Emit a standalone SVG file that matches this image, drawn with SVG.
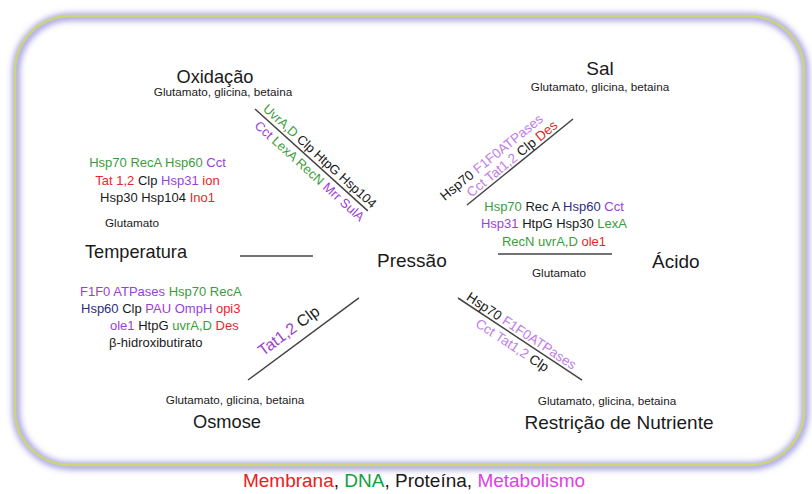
<svg xmlns="http://www.w3.org/2000/svg" width="812" height="494" viewBox="0 0 812 494">
<defs>
<style>
text{font-family:"Liberation Sans",Arial,sans-serif;fill:#1a1a1a}
.big{font-size:19px}
.sm{font-size:11.7px}
.gn{font-size:13px}
.dg{font-size:13.5px}
.g{fill:#3c9c3c}
.p{fill:#9b3fd3}
.lp{fill:#c07de6}
.r{fill:#e8262b}
.b{fill:#2e2e80}
.k{fill:#1a1a1a}
.edge{stroke:#444;stroke-width:1.5;fill:none}
.mid{text-anchor:middle}
</style>
<filter id="glow" x="-5%" y="-5%" width="110%" height="110%">
<feGaussianBlur stdDeviation="3"/>
</filter>
</defs>
<rect width="812" height="494" fill="#fff"/>
<g id="frame">
<rect x="16" y="17" width="789" height="449" rx="55" ry="55" fill="none" stroke="#9e98e0" stroke-width="7" filter="url(#glow)"/>
<rect x="15" y="16" width="789" height="449" rx="55" ry="55" fill="none" stroke="#cdd47a" stroke-width="2.5"/>
</g>

<g id="connectors">
<line class="edge" x1="240" y1="256" x2="313" y2="256"/>
<line class="edge" x1="498" y1="254" x2="612" y2="254"/>
<g transform="translate(255,109) rotate(42.07)">
<line class="edge" x1="0" y1="0" x2="152" y2="0"/>
<text class="gn" x="6" y="-4"><tspan class="g">UvrA,D</tspan> <tspan class="k">Clp HtpG Hsp104</tspan></text>
<text class="gn" x="11" y="14"><tspan class="p">Cct</tspan> <tspan class="g">LexA RecN</tspan> <tspan class="p">Mrr SulA</tspan></text>
</g>
<g transform="translate(248,380) rotate(-36.5)">
<line class="edge" x1="0" y1="0" x2="138" y2="0"/>
<text x="26" y="-10" style="font-size:16px"><tspan class="p">Tat1,2</tspan> <tspan class="k">Clp</tspan></text>
</g>
<g transform="translate(467,205) rotate(-39.06)">
<line class="edge" x1="0" y1="0" x2="136.5" y2="0"/>
<text class="dg" x="-15" y="-17"><tspan class="k">Hsp70</tspan> <tspan class="lp">F1F0ATPases</tspan></text>
<text class="dg" x="8" y="-3"><tspan class="lp">Cct Tat1,2</tspan> <tspan class="k">Clp</tspan> <tspan class="r">Des</tspan></text>
</g>
<g transform="translate(458,298) rotate(33.48)">
<line class="edge" x1="0" y1="0" x2="148.7" y2="0"/>
<text class="dg" x="7" y="-3"><tspan class="k">Hsp70</tspan> <tspan class="lp">F1F0ATPases</tspan></text>
<text class="dg" x="29" y="14"><tspan class="lp">Cct Tat1,2</tspan> <tspan class="k">Clp</tspan></text>
</g>
</g>

<g id="pressao">
<text class="big" x="377" y="267">Pressão</text>
</g>

<g id="oxidacao">
<text class="big mid" x="215" y="83" textLength="77" lengthAdjust="spacingAndGlyphs">Oxidação</text>
<text class="sm mid" x="223" y="96">Glutamato, glicina, betaina</text>
</g>

<g id="sal">
<text class="big mid" x="600" y="75">Sal</text>
<text class="sm mid" x="600" y="91">Glutamato, glicina, betaina</text>
</g>

<g id="temperatura">
<text class="gn mid" x="157.5" y="167"><tspan class="g">Hsp70 RecA Hsp60</tspan> <tspan class="p">Cct</tspan></text>
<text class="gn mid" x="157.5" y="185"><tspan class="r">Tat 1,2</tspan> <tspan class="k">Clp</tspan> <tspan class="p">Hsp31</tspan> <tspan class="r">ion</tspan></text>
<text class="gn mid" x="157.5" y="202"><tspan class="k">Hsp30 Hsp104</tspan> <tspan class="r">Ino1</tspan></text>
<text class="sm mid" x="132" y="227">Glutamato</text>
<text class="big" x="85" y="258" textLength="102" lengthAdjust="spacingAndGlyphs">Temperatura</text>
</g>

<g id="acido">
<text class="gn mid" x="554" y="211"><tspan class="g">Hsp70</tspan> <tspan class="k">Rec A</tspan> <tspan class="b">Hsp60</tspan> <tspan class="p">Cct</tspan></text>
<text class="gn mid" x="554" y="228"><tspan class="p">Hsp31</tspan> <tspan class="k">HtpG Hsp30</tspan> <tspan class="g">LexA</tspan></text>
<text class="gn mid" x="554" y="246"><tspan class="g">RecN uvrA,D</tspan> <tspan class="r">ole1</tspan></text>
<text class="sm mid" x="559" y="277">Glutamato</text>
<text class="big" x="652" y="268">Ácido</text>
</g>

<g id="osmose">
<text class="gn" x="80" y="296"><tspan class="p">F1F0 ATPases</tspan> <tspan class="g">Hsp70 RecA</tspan></text>
<text class="gn" x="81" y="313"><tspan class="b">Hsp60</tspan> <tspan class="k">Clp</tspan> <tspan class="p">PAU OmpH</tspan> <tspan class="r">opi3</tspan></text>
<text class="gn" x="110" y="330"><tspan class="p">ole1</tspan> <tspan class="k">HtpG</tspan> <tspan class="g">uvrA,D</tspan> <tspan class="r">Des</tspan></text>
<text class="gn" x="109" y="347">β-hidroxibutirato</text>
<text class="sm mid" x="235" y="404">Glutamato, glicina, betaina</text>
<text class="big mid" x="227" y="428" textLength="68" lengthAdjust="spacingAndGlyphs">Osmose</text>
</g>

<g id="restricao">
<text class="sm mid" x="607" y="405">Glutamato, glicina, betaina</text>
<text class="big mid" x="619" y="429">Restrição de Nutriente</text>
</g>

<g id="legenda">
<text class="mid" x="414" y="487" style="font-size:19px"><tspan fill="#e8201c">Membrana</tspan>, <tspan fill="#12a040">DNA</tspan>, <tspan fill="#1a1a1a">Proteína</tspan>, <tspan fill="#e040e6">Metabolismo</tspan></text>
</g>
</svg>
